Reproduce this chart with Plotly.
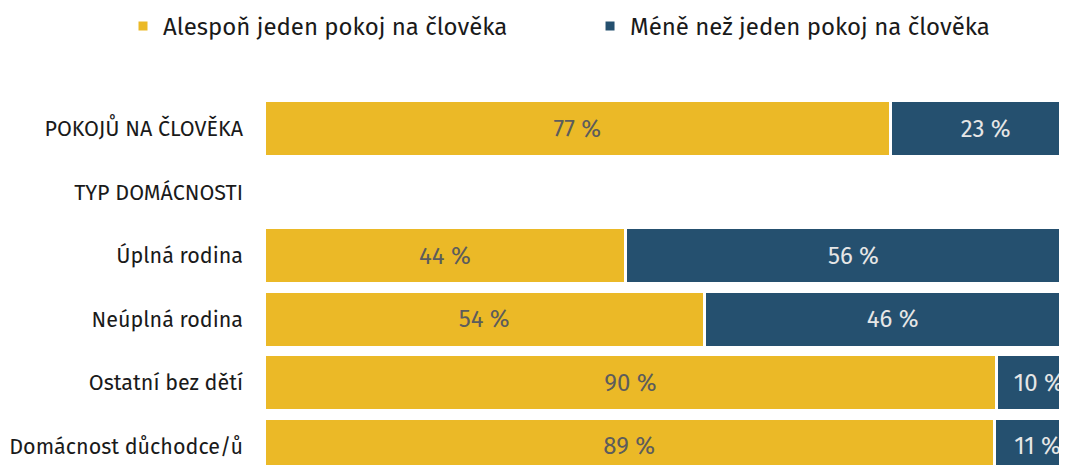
import plotly.graph_objects as go

# categories top to bottom (empty row is the section header)
categories = ["POKOJŮ NA ČLOVĚKA", "TYP DOMÁCNOSTI", "Úplná rodina",
              "Neúplná rodina", "Ostatní bez dětí", "Domácnost důchodce/ů"]
at_least_one = [76.7, None, 44.3, 53.9, 89.7, 89.4]
less_than_one = [23.3, None, 55.7, 46.1, 10.3, 10.6]

gold = "#EBB927"
blue = "#25506F"
font_family = "Fira Sans, Noto Sans, Open Sans, sans-serif"

fig = go.Figure()

fig.add_trace(go.Bar(
    y=categories, x=at_least_one, orientation="h",
    name="Alespoň jeden pokoj na člověka", legend="legend",
    marker=dict(color=gold, line=dict(color="white", width=3)),
    texttemplate="%{x:.0f} %", textposition="inside", insidetextanchor="middle",
    textfont=dict(color="#5c5c5c", size=24, family=font_family),
))

fig.add_trace(go.Bar(
    y=categories, x=less_than_one, orientation="h",
    name="Méně než jeden pokoj na člověka", legend="legend2",
    marker=dict(color=blue, line=dict(color="white", width=3)),
    texttemplate="%{x:.0f} %", textposition="inside", insidetextanchor="middle",
    textfont=dict(color="#e6e6e6", size=24, family=font_family),
))

# one legend per series so each entry sits where it does in the original
legend_style = dict(orientation="h", xref="container", yref="paper",
                    xanchor="left", y=1.2527, yanchor="top", itemwidth=30,
                    font=dict(size=24, color="#1a1a1a"))

fig.update_layout(
    barmode="stack", bargap=0.12,
    width=1059, height=457,
    margin=dict(l=256, r=0, t=89, b=0, autoexpand=False),
    plot_bgcolor="white", paper_bgcolor="white",
    font=dict(family=font_family, color="#1a1a1a"),
    uniformtext=dict(minsize=24, mode="show"),
    legend=dict(x=0.1086, **legend_style),
    legend2=dict(x=0.5496, **legend_style),
    showlegend=True,
)
fig.update_xaxes(range=[0, 98.3], visible=False, fixedrange=True)
fig.update_yaxes(range=[5.295, -0.5], showgrid=False, zeroline=False,
                 ticks="", ticklabelstandoff=20, tickfont=dict(size=21.5, color="#1a1a1a"))

fig.write_html("out.html")
